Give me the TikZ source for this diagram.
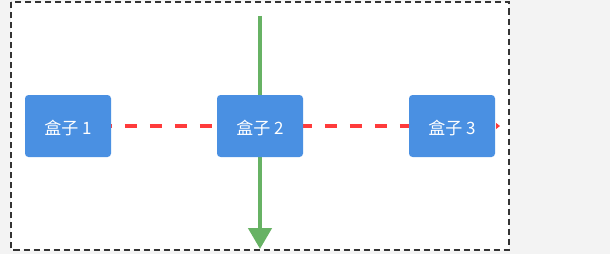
\documentclass[tikz,border=0pt]{standalone}
\usepackage{fontspec}
\newfontfamily\cjk{Noto Sans CJK SC}
\usetikzlibrary{arrows.meta,backgrounds}
\definecolor{boxblue}{HTML}{4A90E2}
\definecolor{linered}{HTML}{FF3B3B}
\definecolor{linegreen}{HTML}{67B264}
\definecolor{pagegray}{HTML}{F3F3F3}
\definecolor{borderdark}{HTML}{333333}
\newcommand{\boxlabel}[1]{\raisebox{-1.5pt}[\height][\depth]{#1}}
\begin{document}
\begin{tikzpicture}[x=1pt,y=-1pt,
  boxnode/.style={fill=boxblue, rounded corners=3.5pt, minimum width=86pt, minimum height=62pt,
    inner sep=0pt, text=white, font=\cjk\fontsize{17}{18}\selectfont},
  redline/.style={draw=linered, line width=4pt, dash pattern=on 12pt off 13pt,
    -{Triangle[length=4pt,width=6pt]}},
  greenline/.style={draw=linegreen, line width=4.5pt, -{Triangle[length=21pt,width=23pt]}},
  frame/.style={draw=borderdark, line width=2pt, dash pattern=on 6pt off 4pt}]
\useasboundingbox (0,0) rectangle (610,254);
\node[boxnode] (b1) at (68,126) {\boxlabel{盒子 1}};
\node[boxnode] (b2) at (260,126) {\boxlabel{盒子 2}};
\node[boxnode] (b3) at (452,126) {\boxlabel{盒子 3}};
\coordinate (gtop) at (260,16);
\coordinate (gbot) at (260,249);
\coordinate (rend) at (500,126);
\begin{scope}[on background layer]
  \fill[pagegray] (0,0) rectangle (610,254);
  \fill[white] (11,2) rectangle (508.5,249.5);
  \draw[frame] (11,2) rectangle (508.5,249.5);
  \draw[redline] (b1.west) -- (rend);
  \draw[greenline] (gtop) -- (gbot);
\end{scope}
\end{tikzpicture}
\end{document}
